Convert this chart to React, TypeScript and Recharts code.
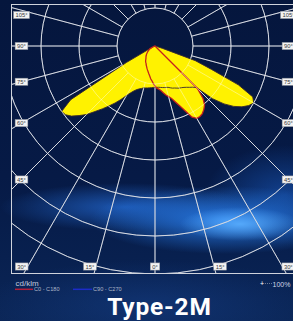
import React from 'react';
import { RadarChart, Radar, PolarGrid, PolarAngleAxis, PolarRadiusAxis } from 'recharts';

// Vertical angle gamma (deg) measured from nadir, negative = left (C180 side), positive = right (C0 side)
const gammaDeg = [-75,-72.5,-70,-67.5,-65,-62.5,-60,-57.5,-55,-52.5,-50,-47.5,-45,-42.5,-40,-37.5,-35,-32.5,-30,-27.5,-25,-22.5,-20,-17.5,-15,-12.5,-10,-7.5,-5,-2.5,0,2.5,5,7.5,10,12.5,15,17.5,20,22.5,25,27.5,30,32.5,35,37.5,40,42.5,45,47.5,50,52.5,55,57.5,60,62.5,65,67.5,70,72.5,75];

// Yellow envelope (cd/klm)
const envelope = [0,3,5,8,16,87,263,300,297,287,271,255,234,216,199,183,167,151,139,130,124,120,117,114,113,112,111,110,109,109,109,109,110,111,112,113,114,117,120,122,125,128,130,133,137,142,147,155,205,237,261,279,292,300,290,242,161,113,21,5,0];

// C0 - C180 curve (red outline)
const c0c180 = [0,3,5,8,12,16,18,21,24,26,29,32,34,37,39,42,46,49,51,55,58,62,66,70,75,80,87,92,99,105,111,114,118,125,132,138,145,157,171,189,211,220,220,217,211,203,187,158,0,0,0,0,0,0,0,0,0,0,0,0,0];

const gridAngles = [0,15,30,45,60,75,90,105,120,135,150,165,180,195,210,225,240,255,270,285,300,315,330,345];
const ringValues = [100,200,300,400,500,600];
const sideLabelAngles = [105,90,75,60,45];
const bottomLabelAngles = [-30,-15,0,15,30];
const legendItems = ['C0 - C180','C90 - C270'];
const unitLabel = 'cd/klm';
const scaleLabel = '100%';
const title = 'Type-2M';

const STEP = 2.5;
const rows = Array.from({ length: 360 / STEP }, (_, i) => {
  const g = i * STEP;
  const s = g > 180 ? g - 360 : g;
  const k = gammaDeg.indexOf(s);
  return { angle: s, envelope: k >= 0 ? envelope[k] : 0, c0c180: k >= 0 ? c0c180[k] : 0 };
});

const PX = 12, PY = 5, PW = 286, PH = 268;
const CX = 143, CY = 41, OUTER = 228, DOMAIN_MAX = 600;
const PAGE_CX = PX + CX, PAGE_CY = PY + CY;
const ringRadii = ringValues.map(v => (v / DOMAIN_MAX) * OUTER);
const polarAngles = gridAngles.map(a => a - 90);
const margin = { top: 0, right: 0, bottom: 0, left: 0 };
const SMALL_FONT = 'Liberation Sans, Arial, sans-serif';

function GridChart({ stroke, opacity }: { stroke: string; opacity: number }) {
  return (
    <RadarChart width={PW} height={PH} data={rows} cx={CX} cy={CY} innerRadius={38} outerRadius={330}
      startAngle={-90} endAngle={270} margin={margin}>
      <PolarAngleAxis dataKey="angle" tick={false} axisLine={false} tickLine={false} />
      <PolarRadiusAxis domain={[0, DOMAIN_MAX]} tick={false} axisLine={false} tickLine={false} />
      <PolarGrid gridType="circle" polarAngles={polarAngles} polarRadius={ringRadii}
        stroke={stroke} strokeOpacity={opacity} strokeWidth={1} />
    </RadarChart>
  );
}

function Label({ x, y, text }: { x: number; y: number; text: string }) {
  const w = text.length * 3.25 + 3;
  return (
    <g>
      <rect x={x - w / 2} y={y - 3.6} width={w} height={7.2} fill="#f3f3f3" stroke="#8a8f99" strokeWidth={0.5} />
      <text x={x} y={y + 2.1} textAnchor="middle" fontSize={5.8} fontFamily={SMALL_FONT} fill="#3a3a3a">{text}</text>
    </g>
  );
}

export default function App() {
  const labels: { x: number; y: number; text: string }[] = [];
  sideLabelAngles.forEach(a => {
    const d = PAGE_CX - 21.5;
    const y = Math.max(15, PAGE_CY + d / Math.tan((a * Math.PI) / 180));
    labels.push({ x: 21.5, y, text: `${a}°` });
    labels.push({ x: 2 * PAGE_CX - 21.5, y, text: `${a}°` });
  });
  bottomLabelAngles.forEach(a => {
    const yy = 266.5;
    const x = PAGE_CX + (yy - PAGE_CY) * Math.tan((a * Math.PI) / 180) + 6 * Math.sign(a);
    labels.push({ x, y: yy, text: `${Math.abs(a)}°` });
  });

  return (
    <div style={{
      position: 'absolute', left: 0, top: 0, width: 293, height: 321, overflow: 'hidden',
      background: [
        'radial-gradient(60px 17px at 240px 224px, rgba(90,175,255,0.9), rgba(90,175,255,0))',
        'radial-gradient(135px 34px at 225px 220px, rgba(40,125,235,0.95), rgba(40,125,235,0))',
        'radial-gradient(125px 24px at 125px 207px, rgba(35,105,210,0.75), rgba(35,105,210,0))',
        'radial-gradient(80px 50px at 285px 195px, rgba(25,90,190,0.6), rgba(25,90,190,0))',
        'radial-gradient(170px 45px at 150px 305px, rgba(22,65,140,0.5), rgba(22,65,140,0))',
        'linear-gradient(180deg, #05163d 0%, #061a46 55%, #08204f 80%, #0b2657 100%)',
      ].join(','),
    }}>
      <div style={{ position: 'absolute', left: PX, top: PY, width: PW, height: PH, overflow: 'hidden' }}>
        <div style={{ position: 'absolute', left: 0, top: 0 }}>
          <GridChart stroke="#bcc2cf" opacity={1} />
        </div>
        <div style={{ position: 'absolute', left: 0, top: 0 }}>
          <RadarChart width={PW} height={PH} data={rows} cx={CX} cy={CY} innerRadius={0} outerRadius={OUTER}
            startAngle={-90} endAngle={270} margin={margin}>
            <PolarAngleAxis dataKey="angle" tick={false} axisLine={false} tickLine={false} />
            <PolarRadiusAxis domain={[0, DOMAIN_MAX]} tick={false} axisLine={false} tickLine={false} />
            <Radar dataKey="c0c180" fill="#fff200" fillOpacity={1} stroke="none" isAnimationActive={false} />
            <Radar dataKey="envelope" fill="#fff200" fillOpacity={1} stroke="#3a2a2e" strokeWidth={0.9} isAnimationActive={false} />
            <Radar dataKey="c0c180" fill="none" fillOpacity={0} stroke="#c4221e" strokeWidth={1.3} isAnimationActive={false} />
          </RadarChart>
        </div>
        <div style={{ position: 'absolute', left: 0, top: 0 }}>
          <GridChart stroke="#ffffff" opacity={0.4} />
        </div>
      </div>
      <div style={{ position: 'absolute', left: 11, top: 4, width: 300, height: 270, border: '1.5px solid #cfd3dc', boxSizing: 'border-box' }} />
      <svg width={293} height={321} style={{ position: 'absolute', left: 0, top: 0 }}>
        {labels.map((l, i) => <Label key={i} {...l} />)}
        <text x={15.5} y={285.5} fontSize={8} fontFamily={SMALL_FONT} fill="#c0c8dc">{unitLabel}</text>
        <line x1={15} x2={33} y1={289.3} y2={289.3} stroke="#b3203a" strokeWidth={1.5} />
        <text x={34} y={290.8} fontSize={5.6} fontFamily={SMALL_FONT} fill="#aeb6c8">{legendItems[0]}</text>
        <line x1={73} x2={92} y1={289.3} y2={289.3} stroke="#1c2cc8" strokeWidth={1.5} />
        <text x={93} y={290.8} fontSize={5.6} fontFamily={SMALL_FONT} fill="#aeb6c8">{legendItems[1]}</text>
        <text x={262} y={285.5} textAnchor="middle" fontSize={7} fontFamily={SMALL_FONT} fill="#ffffff">+</text>
        <line x1={265} x2={272} y1={283.5} y2={283.5} stroke="#8090a8" strokeWidth={0.8} strokeDasharray="1 1" />
        <text x={272.5} y={286.5} fontSize={7} fontFamily={SMALL_FONT} fill="#d0d6e4">{scaleLabel}</text>
        <text x={159.5} y={315} textAnchor="middle" fontSize={24.5} fontWeight={700} letterSpacing={0.8}
          fontFamily="Roboto, sans-serif" fill="#ffffff">{title}</text>
      </svg>
    </div>
  );
}
